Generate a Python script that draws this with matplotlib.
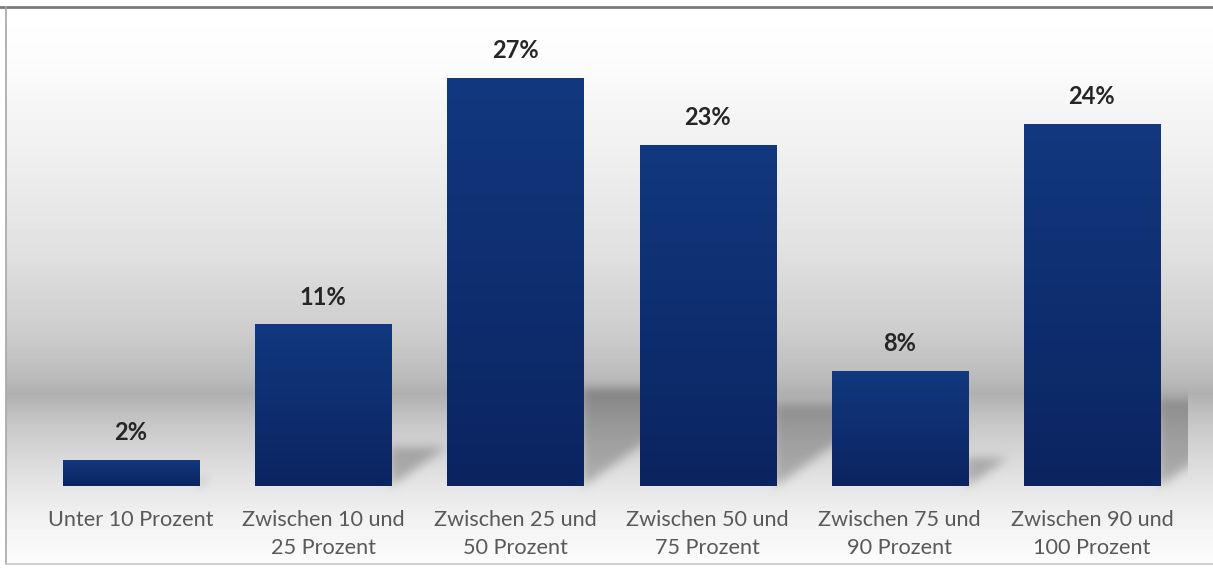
import numpy as np
import matplotlib.pyplot as plt
from matplotlib.colors import LinearSegmentedColormap

# data
categories = ["Unter 10 Prozent", "Zwischen 10 und\n25 Prozent", "Zwischen 25 und\n50 Prozent",
              "Zwischen 50 und\n75 Prozent", "Zwischen 75 und\n90 Prozent", "Zwischen 90 und\n100 Prozent"]
values = [1.7, 10.7, 27.0, 22.6, 7.6, 24.0]
labels = ["2%", "11%", "27%", "23%", "8%", "24%"]

plt.rcParams['font.family'] = ['Lato', 'DejaVu Sans']

W, H = 1213, 572
fig = plt.figure(figsize=(W / 100, H / 100), dpi=100)

ax = fig.add_axes([35 / W, 86 / H, 1153 / W, 30 * 15.1 / H])
ax.patch.set_alpha(0)
x = np.arange(len(values))
bw = 0.708
ax.set_xlim(-0.5, len(values) - 0.5)
ax.set_ylim(0, 30)

# background: vertical grey gradient (pixel rows counted from the top)
rows = np.arange(H)
stops_y = [0, 10, 60, 150, 250, 330, 375, 393, 420, 450, 486, 520, 563]
stops_v = [255, 255, 252, 240, 225, 205, 188, 176, 197, 213, 230, 242, 252]
col = np.interp(rows, stops_y, stops_v)[::-1] / 255.0   # flip so row 0 = bottom
img = np.repeat(col[:, None], W, axis=1)

# perspective shadows of the bars, computed from the data through the axes transform
mask = np.zeros((H, W))
yy, xx = np.mgrid[0:H, 0:W]
for xi, v in zip(x, values):
    (r, base), = ax.transData.transform([(xi + bw / 2, 0)])
    (_, top), = ax.transData.transform([(xi, v)])
    hs = 0.24 * (top - base)
    inside = (xx >= r - 2) & (yy >= base) & (yy <= base + hs) & (xx <= r + (yy - base) / 0.7)
    mask[inside] = 1.0

def blur(a, sigma):
    k = np.arange(-3 * sigma, 3 * sigma + 1)
    g = np.exp(-k ** 2 / (2 * sigma ** 2))
    g /= g.sum()
    a = np.apply_along_axis(lambda m: np.convolve(m, g, mode='same'), 0, a)
    a = np.apply_along_axis(lambda m: np.convolve(m, g, mode='same'), 1, a)
    return a

mask = blur(mask, 5)
# shadows stay inside the plot area
plot_right = ax.get_window_extent().x1
mask[:, int(round(plot_right)):] = 0
img = img * (1 - 0.24 * mask)

bg = fig.add_axes([0, 0, 1, 1], zorder=-2)
bg.imshow(img, cmap='gray', vmin=0, vmax=1, aspect='auto', origin='lower',
          extent=(0, W, 0, H), interpolation='nearest')
bg.set_xlim(0, W)
bg.set_ylim(0, H)
bg.axis('off')
# white margin and frame lines
bg.fill_between([0, W], H - 6, H, color='white', zorder=3)
bg.fill_between([0, 5], 0, H, color='white', zorder=3)
bg.fill_between([0, W], 0, H - 564, color='white', zorder=3)
bg.plot([0, W], [H - 7, H - 7], color='#7a7a7a', lw=2.0, zorder=4)
bg.plot([6, 6], [H - 7, H - 564], color='#a6a6a6', lw=1.2, zorder=4)
bg.plot([6, W], [H - 564, H - 564], color='#c8c8c8', lw=1.2, zorder=4)

bars = ax.bar(x, values, width=bw, color='none', edgecolor='none', zorder=3)

bar_cmap = LinearSegmentedColormap.from_list('bar', ['#0b2460', '#12387f'])
grad = np.linspace(0, 1, 256)[:, None]
for b in bars:
    bx, by = b.get_x(), b.get_y()
    im = ax.imshow(grad, cmap=bar_cmap, aspect='auto', origin='lower',
                   extent=(bx, bx + b.get_width(), by, by + b.get_height()), zorder=3)
    im.set_clip_path(b)

for xi, v, lab in zip(x, values, labels):
    ax.text(xi, v + 1.05, lab, ha='center', va='bottom', fontsize=17, fontweight='bold', color='#262626')

ax.set_xlim(-0.5, len(values) - 0.5)
ax.set_ylim(0, 30)
ax.set_xticks(x)
ax.set_xticklabels(categories, fontsize=15.6, color='#595959', linespacing=1.5)
ax.tick_params(axis='x', length=0, pad=17)
ax.set_yticks([])
for s in ax.spines.values():
    s.set_visible(False)

fig.savefig('out.png', dpi=100)
